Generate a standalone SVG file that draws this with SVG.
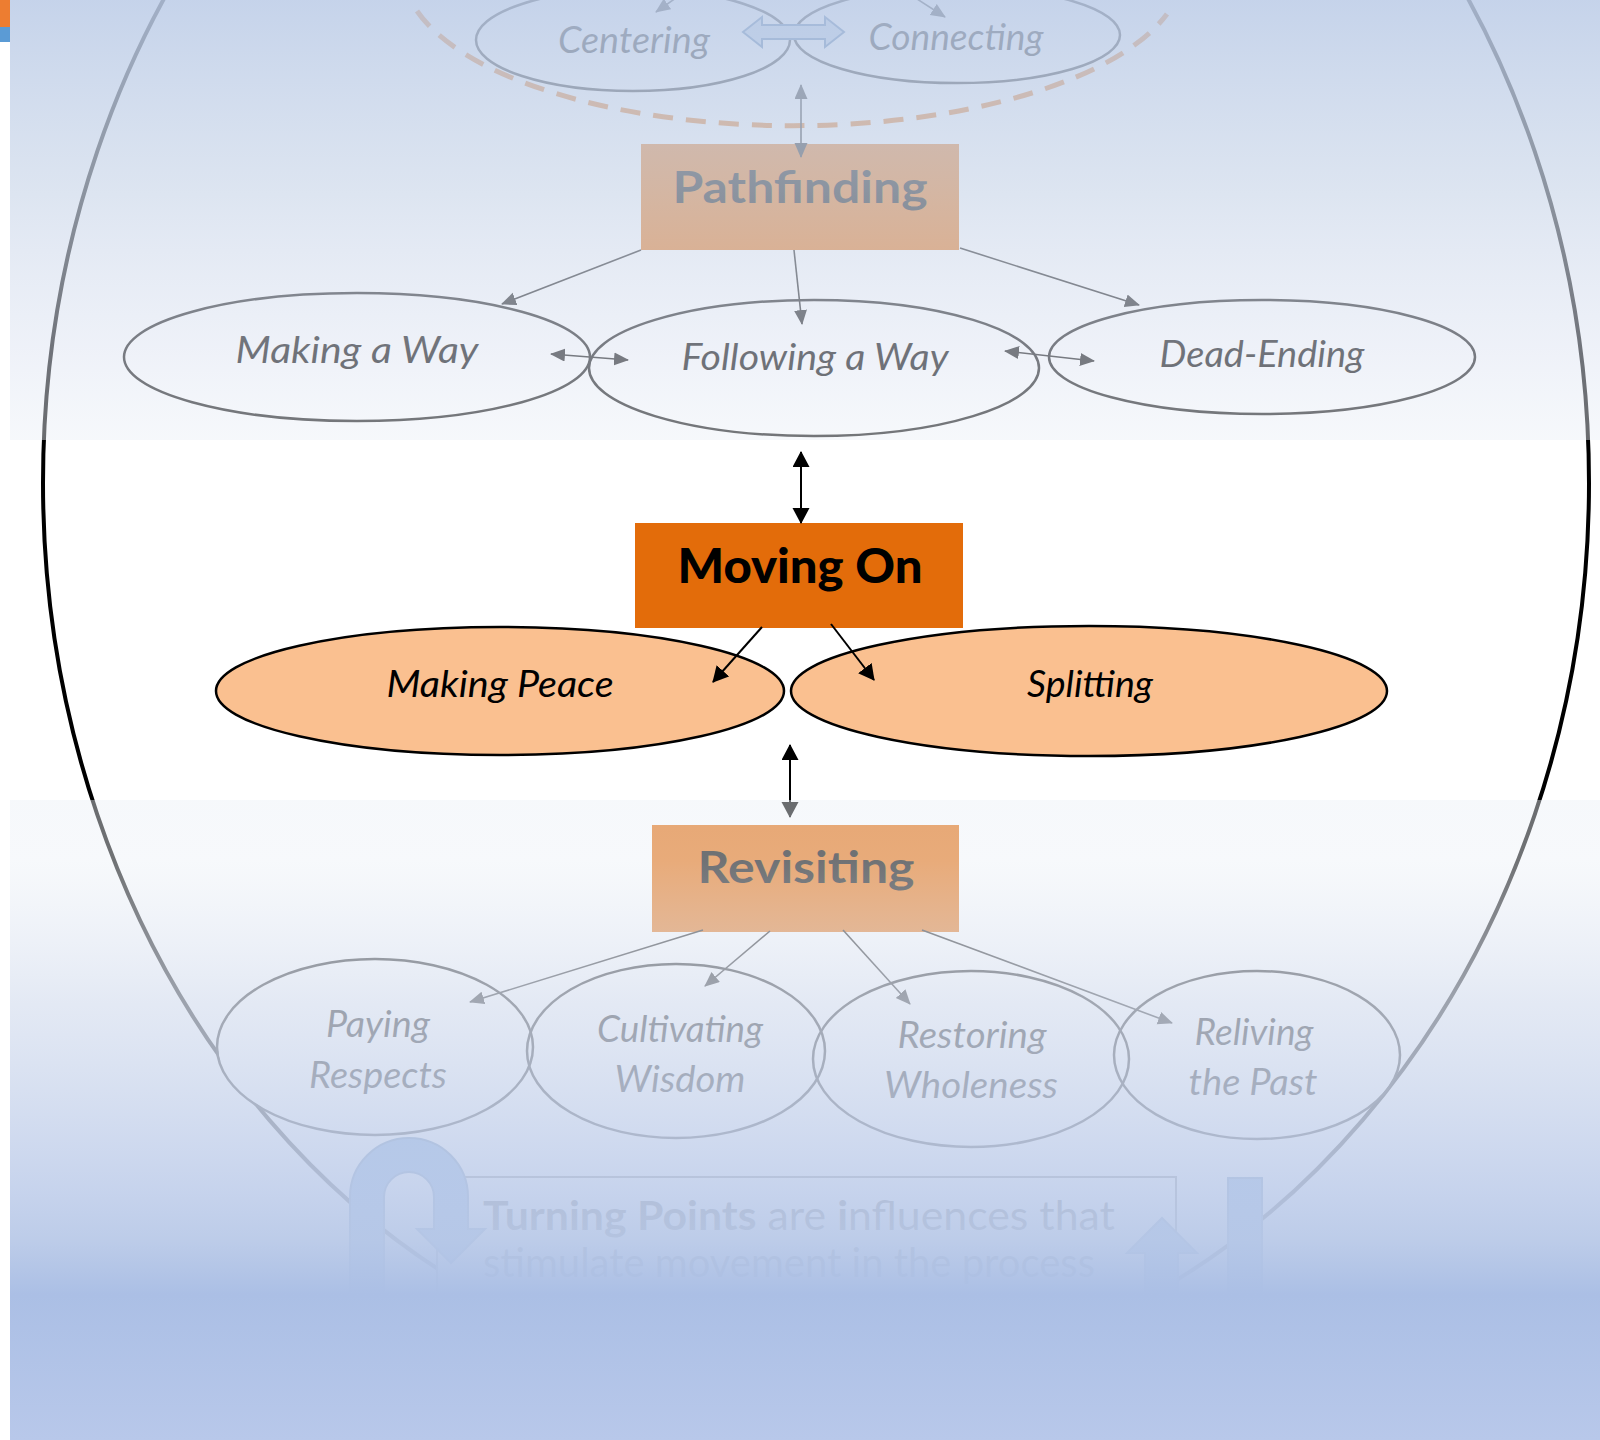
<svg xmlns="http://www.w3.org/2000/svg" width="1600" height="1440" viewBox="0 0 1600 1440">
  <defs>
    <style>
      .lbl { font-family: Lato, "Open Sans", "DejaVu Sans", sans-serif; font-style: italic; font-size: 37px; fill: #000; text-anchor: middle; }
      .hd { font-family: Lato, "Open Sans", "DejaVu Sans", sans-serif; font-weight: bold; font-size: 44px; fill: #000; text-anchor: middle; }
      .sub { fill: none; stroke: #111; stroke-width: 2.5; }
      .peach { fill: #fac090; stroke: #000; stroke-width: 2.5; }
      .box { fill: #e36c0a; }
      .ln { fill: none; stroke: #111; stroke-width: 1.6; }
      .ln2 { fill: none; stroke: #000; stroke-width: 2; }
      .blue { fill: #4a86d0; stroke: #2f5f98; stroke-width: 2; }
      .tp { font-family: Lato, "Open Sans", "DejaVu Sans", sans-serif; font-size: 40px; fill: #222; }
    </style>
    <marker id="ah" markerUnits="userSpaceOnUse" markerWidth="16" markerHeight="14" refX="14" refY="6.5" orient="auto-start-reverse">
      <path d="M0,0 L15,6.5 L0,13 z" fill="#111"/>
    </marker>
    <marker id="ahb" markerUnits="userSpaceOnUse" markerWidth="18" markerHeight="18" refX="15" refY="8.5" orient="auto-start-reverse">
      <path d="M0,0 L16,8.5 L0,17 z" fill="#000"/>
    </marker>
    <!-- the boundary line passes behind the two outer lower ellipses -->
    <mask id="boundaryMask" maskUnits="userSpaceOnUse" x="0" y="0" width="1600" height="1440">
      <rect x="0" y="0" width="1600" height="1440" fill="#fff"/>
      <ellipse cx="375" cy="1047" rx="157" ry="87" fill="#000"/>
      <ellipse cx="1257" cy="1055" rx="142" ry="83" fill="#000"/>
    </mask>
    <linearGradient id="hazeTop" gradientUnits="userSpaceOnUse" x1="0" y1="0" x2="0" y2="440">
      <stop offset="0" stop-color="rgb(188,204,231)" stop-opacity="0.86"/>
      <stop offset="0.42" stop-color="rgb(204,216,234)" stop-opacity="0.69"/>
      <stop offset="0.8" stop-color="rgb(222,228,242)" stop-opacity="0.5"/>
      <stop offset="1" stop-color="rgb(235,240,247)" stop-opacity="0.45"/>
    </linearGradient>
    <linearGradient id="hazeBottom" gradientUnits="userSpaceOnUse" x1="0" y1="800" x2="0" y2="1440">
      <stop offset="0" stop-color="rgb(235,240,247)" stop-opacity="0.45"/>
      <stop offset="0.094" stop-color="rgb(238,242,248)" stop-opacity="0.47"/>
      <stop offset="0.3125" stop-color="rgb(217,225,240)" stop-opacity="0.72"/>
      <stop offset="0.609" stop-color="rgb(193,207,235)" stop-opacity="0.91"/>
      <stop offset="0.6875" stop-color="rgb(186,202,232)" stop-opacity="0.96"/>
      <stop offset="0.773" stop-color="rgb(171,191,229)" stop-opacity="1"/>
      <stop offset="1" stop-color="rgb(184,200,234)" stop-opacity="1"/>
    </linearGradient>
  </defs>

  <!-- page -->
  <rect x="0" y="0" width="1600" height="1440" fill="#fff"/>
  <rect x="0" y="0" width="10" height="27" fill="#ed7d31"/>
  <rect x="0" y="27" width="10" height="15" fill="#5b9bd5"/>

  <!-- outer process boundary and the core dashed arc -->
  <g id="boundary">
    <ellipse cx="816" cy="483" rx="773" ry="901" fill="none" stroke="#000" stroke-width="4" mask="url(#boundaryMask)"/>
    <path d="M417,11 A390,156 0 0 0 1167,14" fill="none" stroke="#e46c0a" stroke-width="5" stroke-dasharray="20 13"/>
  </g>

  <!-- upper tier -->
  <g id="centering">
    <ellipse class="sub" cx="633" cy="40" rx="157" ry="51"/>
    <text class="lbl" x="634" y="53" textLength="152" lengthAdjust="spacingAndGlyphs">Centering</text>
  </g>
  <g id="connecting">
    <ellipse class="sub" cx="957" cy="35" rx="163" ry="48"/>
    <text class="lbl" x="956" y="50" textLength="175" lengthAdjust="spacingAndGlyphs">Connecting</text>
  </g>
  <g id="pathfinding">
    <rect class="box" x="641" y="144" width="318" height="106"/>
    <text class="hd" x="800" y="203" textLength="255" lengthAdjust="spacingAndGlyphs">Pathfinding</text>
  </g>
  <g id="making-a-way">
    <ellipse class="sub" cx="357" cy="357" rx="233" ry="64"/>
    <text class="lbl" x="357" y="363" textLength="243" lengthAdjust="spacingAndGlyphs">Making a Way</text>
  </g>
  <g id="following-a-way">
    <ellipse class="sub" cx="814" cy="368" rx="225" ry="68"/>
    <text class="lbl" x="815" y="370" textLength="267" lengthAdjust="spacingAndGlyphs">Following a Way</text>
  </g>
  <g id="dead-ending">
    <ellipse class="sub" cx="1262" cy="357" rx="213" ry="57"/>
    <text class="lbl" x="1262" y="367" textLength="205" lengthAdjust="spacingAndGlyphs">Dead-Ending</text>
  </g>

  <!-- middle tier -->
  <g id="moving-on">
    <rect class="box" x="635" y="523" width="328" height="105"/>
    <text class="hd" x="800" y="583" style="font-weight:900;font-size:47px" textLength="245" lengthAdjust="spacingAndGlyphs">Moving On</text>
  </g>
  <g id="making-peace">
    <ellipse class="peach" cx="500" cy="691" rx="284" ry="64"/>
    <text class="lbl" x="500" y="697" textLength="227" lengthAdjust="spacingAndGlyphs">Making Peace</text>
  </g>
  <g id="splitting">
    <ellipse class="peach" cx="1089" cy="691" rx="298" ry="65"/>
    <text class="lbl" x="1090" y="697" textLength="126" lengthAdjust="spacingAndGlyphs">Splitting</text>
  </g>

  <!-- lower tier -->
  <g id="revisiting">
    <rect class="box" x="652" y="825" width="307" height="107"/>
    <text class="hd" x="806" y="883" textLength="217" lengthAdjust="spacingAndGlyphs">Revisiting</text>
  </g>
  <g id="paying-respects">
    <ellipse class="sub" cx="375" cy="1047" rx="158" ry="88"/>
    <text class="lbl" x="378" y="1037" textLength="104" lengthAdjust="spacingAndGlyphs">Paying</text>
    <text class="lbl" x="378" y="1088" textLength="138" lengthAdjust="spacingAndGlyphs">Respects</text>
  </g>
  <g id="cultivating-wisdom">
    <ellipse class="sub" cx="676" cy="1051" rx="149" ry="87"/>
    <text class="lbl" x="680" y="1042" textLength="166" lengthAdjust="spacingAndGlyphs">Cultivating</text>
    <text class="lbl" x="680" y="1092" textLength="131" lengthAdjust="spacingAndGlyphs">Wisdom</text>
  </g>
  <g id="restoring-wholeness">
    <ellipse class="sub" cx="971" cy="1059" rx="158" ry="88"/>
    <text class="lbl" x="972" y="1048" textLength="149" lengthAdjust="spacingAndGlyphs">Restoring</text>
    <text class="lbl" x="971" y="1098" textLength="174" lengthAdjust="spacingAndGlyphs">Wholeness</text>
  </g>
  <g id="reliving-the-past">
    <ellipse class="sub" cx="1257" cy="1055" rx="143" ry="84"/>
    <text class="lbl" x="1254" y="1045" textLength="119" lengthAdjust="spacingAndGlyphs">Reliving</text>
    <text class="lbl" x="1253" y="1095" textLength="129" lengthAdjust="spacingAndGlyphs">the Past</text>
  </g>

  <!-- turning points note with its symbols -->
  <g id="turning-points">
    <rect x="437" y="1177" width="739" height="200" fill="#fff" stroke="#555" stroke-width="2"/>
    <text class="tp" x="483" y="1230" textLength="632" lengthAdjust="spacingAndGlyphs"><tspan font-weight="bold">Turning Points</tspan> are <tspan font-weight="bold">i</tspan>nfluences that</text>
    <text class="tp" x="483" y="1277" textLength="612" lengthAdjust="spacingAndGlyphs">stimulate movement in the process</text>
    <path class="blue" d="M350,1330 L350,1197 A59,59 0 0 1 468,1197 L468,1229 L485,1229 L451,1263 L417,1229 L434,1229 L434,1197 A25,25 0 0 0 384,1197 L384,1330 Z"/>
    <path class="blue" d="M1145,1330 L1145,1253 L1127,1253 L1162,1218 L1197,1253 L1178,1253 L1178,1330 Z"/>
    <rect class="blue" x="1228" y="1178" width="34" height="152"/>
  </g>

  <!-- connectors -->
  <g id="connectors">
    <path class="ln" d="M690,-12 L656,12" marker-end="url(#ah)"/>
    <path class="ln" d="M900,-12 L945,17" marker-end="url(#ah)"/>
    <path d="M743,32 L762,17 L762,25 L825,25 L825,17 L844,32 L825,47 L825,39 L762,39 L762,47 Z" fill="#b8cce4" stroke="#2f5f98" stroke-width="2"/>
    <path class="ln" d="M801,85 L801,157" marker-start="url(#ah)" marker-end="url(#ah)"/>
    <path class="ln" d="M641,250 L502,304" marker-end="url(#ah)"/>
    <path class="ln" d="M794,250 L802,324" marker-end="url(#ah)"/>
    <path class="ln" d="M960,248 L1139,305" marker-end="url(#ah)"/>
    <path class="ln" d="M551,354 L628,360" marker-start="url(#ah)" marker-end="url(#ah)"/>
    <path class="ln" d="M1005,351 L1094,361" marker-start="url(#ah)" marker-end="url(#ah)"/>
    <path class="ln2" d="M801,452 L801,523" marker-start="url(#ahb)" marker-end="url(#ahb)"/>
    <path class="ln2" d="M762,627 L713,682" marker-end="url(#ahb)"/>
    <path class="ln2" d="M831,624 L874,680" marker-end="url(#ahb)"/>
    <path class="ln2" d="M790,745 L790,817" marker-start="url(#ahb)" marker-end="url(#ahb)"/>
    <path class="ln" d="M703,930 L470,1002" marker-end="url(#ah)"/>
    <path class="ln" d="M770,931 L705,986" marker-end="url(#ah)"/>
    <path class="ln" d="M843,930 L910,1004" marker-end="url(#ah)"/>
    <path class="ln" d="M922,930 L1172,1023" marker-end="url(#ah)"/>
  </g>

  <!-- haze over the upper and lower tiers -->
  <rect x="10" y="0" width="1590" height="440" fill="url(#hazeTop)"/>
  <rect x="10" y="800" width="1590" height="640" fill="url(#hazeBottom)"/>
</svg>
